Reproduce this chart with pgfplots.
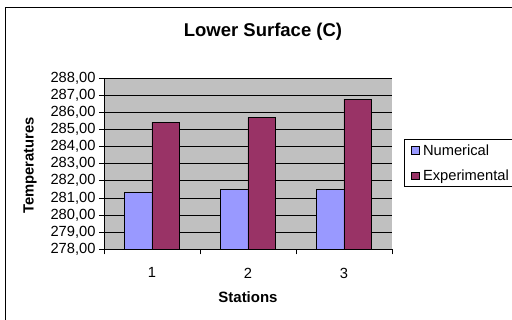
\documentclass[border=0pt]{standalone}
\usepackage{fontspec}
\setmainfont{Liberation Sans}
\usepackage{pgfplots}
\pgfplotsset{compat=1.18}
\definecolor{numc}{HTML}{9999FF}
\definecolor{expc}{HTML}{993366}
\definecolor{bgc}{HTML}{C0C0C0}
\newcommand{\lbl}{\fontsize{14.7}{17}\selectfont}
\begin{document}
\begin{tikzpicture}
\begin{axis}[
  anchor=south west,
  scale only axis, width=288pt, height=171.3pt,
  xmin=0.5, xmax=3.5, ymin=278, ymax=288,
  ybar=0pt, bar width=27.5pt,
  axis background/.style={fill=bgc},
  axis x line*=bottom, axis y line*=left,
  axis line style={black, line width=0.8pt},
  xtick={1,2,3}, xticklabels={1,2,3},
  minor xtick={0.5,1.5,2.5,3.5},
  ytick={278,279,...,288},
  tick align=outside,
  major x tick style={draw=none},
  minor tick length=5pt, major tick length=5pt,
  every tick/.style={black, line width=0.8pt},
  ymajorgrids, grid style={black, line width=0.8pt},
  yticklabel style={/pgf/number format/.cd, fixed, fixed zerofill, precision=2, use comma, 1000 sep={}, assume math mode=true},
  ticklabel style={font=\lbl},
  xticklabel style={yshift=-10pt},
  title={Lower Surface (C)},
  title style={font=\fontsize{18.5}{21}\selectfont\bfseries, at={(0.552,1.270)}, anchor=center, yshift=0pt},
  every axis title shift=0pt,
  xlabel={Stations},
  xlabel style={font=\fontsize{15}{17}\selectfont\bfseries, at={(0.5,-0.278)}, anchor=center},
  ylabel={Temperatures},
  ylabel style={font=\fontsize{14.8}{17}\selectfont\bfseries, at={(-0.257,0.49)}, anchor=center, rotate=0},
  legend style={at={(1.0417,0.644)}, anchor=north west, draw=black, line width=0.8pt, fill=white,
    font=\lbl, inner xsep=6.5pt, inner ysep=3pt, row sep=9pt, cells={anchor=west},
    /tikz/every odd column/.append style={column sep=2pt}},
  legend cell align=left,
  clip=true,
]
\addplot[fill=numc, draw=black, line width=0.6pt,
  legend image code/.code={\draw[fill=numc,draw=black,line width=0.5pt] (0pt,-3.8pt) rectangle (7.6pt,3.8pt);}]
  coordinates {(1,281.30) (2,281.50) (3,281.50)};
\addplot[fill=expc, draw=black, line width=0.6pt,
  legend image code/.code={\draw[fill=expc,draw=black,line width=0.5pt] (0pt,-3.8pt) rectangle (7.6pt,3.8pt);}]
  coordinates {(1,285.41) (2,285.70) (3,286.77)};
\legend{Numerical, Experimental}
\end{axis}
\draw[black,line width=1pt] (-98.5pt,-90pt) -- (-98.5pt,241.8pt) -- (430pt,241.8pt);
\pgfresetboundingbox
\path[use as bounding box] (-104pt,249.3pt) rectangle (408pt,-70.7pt);
\end{tikzpicture}
\end{document}
